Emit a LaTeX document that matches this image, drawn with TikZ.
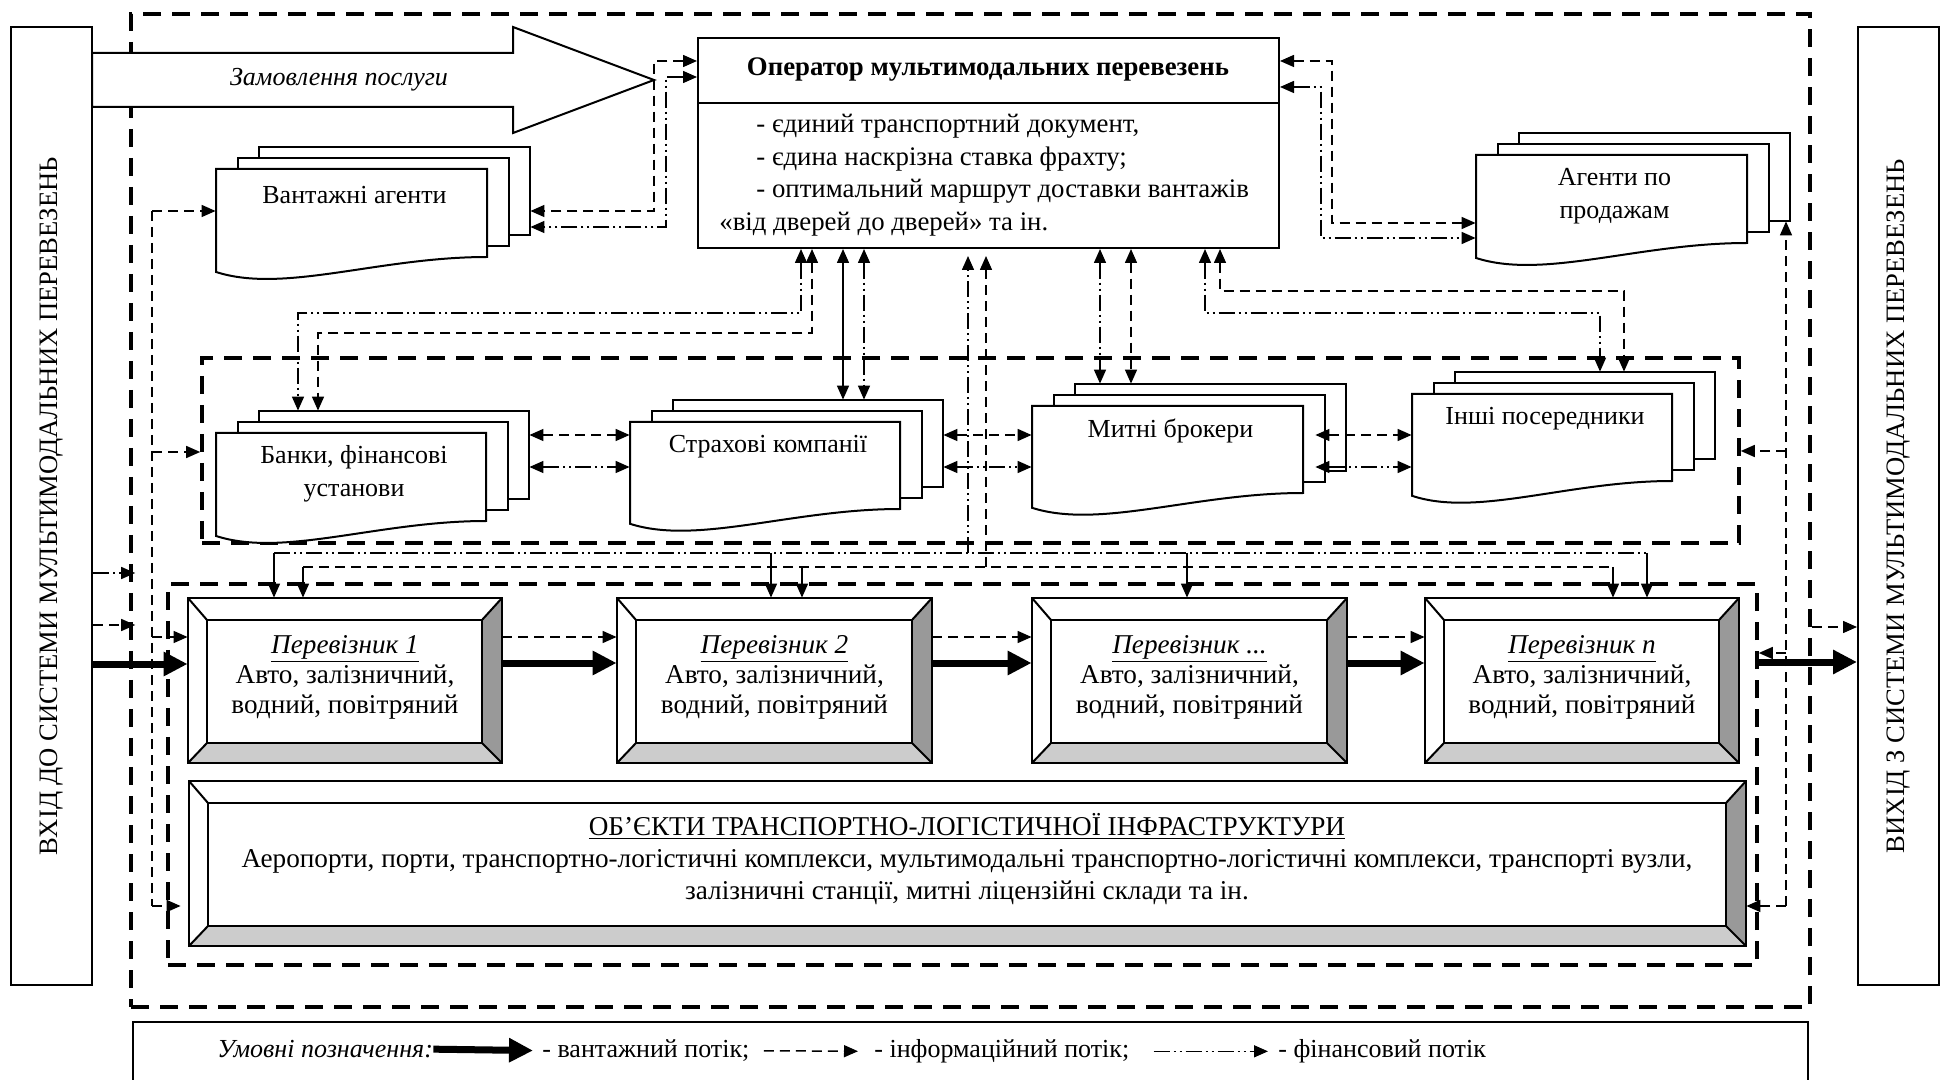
\documentclass[tikz,border=0pt]{standalone}
\usepackage{fontspec}
\setmainfont{Liberation Serif}
\usetikzlibrary{arrows.meta,fit,calc}
\pgfdeclarelayer{background}
\pgfsetlayers{background,main}
\newcommand{\fsz}{\fontsize{13}{16.5}\selectfont}
\newcommand{\fszb}{\fontsize{13.6}{15}\selectfont}
\tikzset{
  boxline/.style={line width=1pt},
  grpbox/.style={line width=1.8pt,dash pattern=on 9pt off 5.5pt},
  conn/.style={line width=0.75pt},
  info/.style={conn,dash pattern=on 5pt off 3pt},
  fin/.style={conn,dash pattern=on 8pt off 2pt on 1pt off 2pt on 1pt off 2pt},
  solidc/.style={conn},
  oneway/.style={-{Triangle[length=7pt,width=6pt]}},
  twoway/.style={{Triangle[length=7pt,width=6pt]}-{Triangle[length=7pt,width=6pt]}},
  cargo/.style={line width=3.5pt,-{Triangle[length=12pt,width=11.5pt]}},
  txt/.style={font=\fsz,align=center,inner sep=0pt},
  bevR/.style={fill=black!40},
  bevB/.style={fill=black!20},
}
% #1 name, #2 x0, #3 top, #4 w, #5 h, #6 text y, #7 text
\newcommand{\docstack}[7]{%
  \draw[boxline,fill=white] (#2+43,#3-22) rectangle (#2+43+#4,#3-22+#5);
  \draw[boxline,fill=white] (#2+21.5,#3-11) rectangle (#2+21.5+#4,#3-11+#5);
  \draw[boxline,fill=white] (#2,#3) -- (#2+#4,#3) -- (#2+#4,#3+#5)
     .. controls (#2+0.6*#4,#3+#5) and (#2+0.25*#4,#3+1.42*#5) .. (#2,#3+1.17*#5) -- cycle;
  \node[fit={(#2+43,#3-22)(#2+43+#4,#3-22+#5)},inner sep=0pt] (#1B) {};
  \node[fit={(#2,#3)(#2+#4,#3+#5)},inner sep=0pt] (#1F) {};
  \node[txt] (#1T) at (#2+0.5*#4+3,#6) {#7};
}
% #1 name, #2 x0, #3 y0, #4 x1, #5 y1
\newcommand{\bevelbox}[5]{%
  \fill[white] (#2,#3) rectangle (#4,#5);
  \fill[bevR] (#4,#3) -- (#4,#5) -- (#4-20,#5-20) -- (#4-20,#3+22) -- cycle;
  \fill[bevB] (#2,#5) -- (#4,#5) -- (#4-20,#5-20) -- (#2+19,#5-20) -- cycle;
  \draw[boxline] (#2,#3) rectangle (#4,#5);
  \draw[boxline] (#2+19,#3+22) rectangle (#4-20,#5-20);
  \draw[boxline] (#2,#3) -- (#2+19,#3+22) (#4,#3) -- (#4-20,#3+22)
     (#2,#5) -- (#2+19,#5-20) (#4,#5) -- (#4-20,#5-20);
  \node[fit={(#2,#3)(#4,#5)},inner sep=0pt] (#1) {};
}
\begin{document}
\begin{tikzpicture}[x=0.5pt,y=-0.5pt]
\useasboundingbox (0,0) rectangle (1945,1080);

% ---- input / output boxes
\node[fit={(11,27)(92,985)},inner sep=0pt,draw,boxline] (inbox) {};
\node[txt,rotate=90,font=\fontsize{13.3}{16}\selectfont] (intext) at (inbox.center) {ВХІД ДО СИСТЕМИ МУЛЬТИМОДАЛЬНИХ ПЕРЕВЕЗЕНЬ};
\node[fit={(1858,27)(1939,985)},inner sep=0pt,draw,boxline] (outbox) {};
\node[txt,rotate=90,font=\fontsize{13.3}{16}\selectfont] (outtext) at (outbox.center) {ВИХІД З СИСТЕМИ МУЛЬТИМОДАЛЬНИХ ПЕРЕВЕЗЕНЬ};

% ---- order arrow
\draw[boxline,fill=white] (92,53) -- (513,53) -- (513,27) -- (654,80) -- (513,133) -- (513,107) -- (92,107) -- cycle;
\node[txt,font=\fsz\itshape] (order) at (339,80) {Замовлення послуги};

% ---- operator
\node[fit={(698,38)(1279,248)},inner sep=0pt,draw,boxline,fill=white] (op) {};
\draw[boxline] (op.west|-0,103) -- (op.east|-0,103);
\node[txt,font=\fontsize{13.4}{16}\selectfont\bfseries] (optitle) at (988,70) {Оператор мультимодальних перевезень};
\node[txt,anchor=mid west,font=\fontsize{13.4}{16}\selectfont] (ob1) at (756,128) {- єдиний транспортний документ,};
\node[txt,anchor=mid west,font=\fontsize{13.4}{16}\selectfont] (ob2) at (756,161) {- єдина наскрізна ставка фрахту;};
\node[txt,anchor=mid west,font=\fontsize{13.4}{16}\selectfont] (ob3) at (756,193) {- оптимальний маршрут доставки вантажів};
\node[txt,anchor=mid west,font=\fontsize{13.4}{16}\selectfont] (ob4) at (719,226) {«від дверей до дверей» та ін.};

% ---- documents
\docstack{va}{216}{169}{271}{88}{195}{Вантажні агенти}
\docstack{ap}{1476}{155}{271}{88}{196}{Агенти по\\продажам}
\docstack{bk}{216}{433}{270}{88}{474}{Банки, фінансові\\установи}
\docstack{sk}{630}{422}{270}{87}{447}{Страхові компанії}
\docstack{mb}{1032}{406}{271}{87}{431}{Митні брокери}
\docstack{ip}{1412}{394}{260}{87}{419}{Інші посередники}

% ---- carriers
\bevelbox{p1}{188}{598}{502}{763}
\bevelbox{p2}{617}{598}{932}{763}
\bevelbox{p3}{1032}{598}{1347}{763}
\bevelbox{pn}{1425}{598}{1739}{763}
\bevelbox{infra}{189}{781}{1746}{946}
\node[txt,font=\fszb] (p1t) at (p1.center|-0,677) {\underline{\textit{Перевізник 1}}\\Авто, залізничний,\\водний, повітряний};
\node[txt,font=\fszb] (p2t) at (p2.center|-0,677) {\underline{\textit{Перевізник 2}}\\Авто, залізничний,\\водний, повітряний};
\node[txt,font=\fszb] (p3t) at (p3.center|-0,677) {\underline{\textit{Перевізник ...}}\\Авто, залізничний,\\водний, повітряний};
\node[txt,font=\fszb] (pnt) at (pn.center|-0,677) {\underline{\textit{Перевізник n}}\\Авто, залізничний,\\водний, повітряний};
\node[txt,font=\fontsize{13.6}{16}\selectfont] (inft) at (967,859) {\underline{ОБ’ЄКТИ ТРАНСПОРТНО-ЛОГІСТИЧНОЇ ІНФРАСТРУКТУРИ}\\Аеропорти, порти, транспортно-логістичні комплекси, мультимодальні транспортно-логістичні комплекси, транспорті вузли,\\залізничні станції, митні ліцензійні склади та ін.};

% connectors drawn over Митні брокери
\draw[info,twoway] ($(mbF.east|-0,435)+(12,0)$) -- (ipF.west|-0,435);
\draw[fin,twoway] ($(mbF.east|-0,467)+(12,0)$) -- (ipF.west|-0,467);

% ---- legend
\node[fit={(133,1022)(1808,1095)},inner sep=0pt,draw,boxline] (legend) {};
\node[txt,anchor=mid west,font=\fsz\itshape] (lg0) at (217,1053) {Умовні позначення:};
\node[txt,anchor=mid west] (lg1) at (542,1053) {- вантажний потік;};
\node[txt,anchor=mid west] (lg2) at (874,1053) {- інформаційний потік;};
\node[txt,anchor=mid west] (lg3) at (1278,1053) {- фінансовий потік};
\draw[cargo,shorten >=4.5pt] (lg0.east) -- (lg1.west);
\draw[info,oneway,shorten <=7pt,shorten >=8pt] (lg1.east) -- (lg2.west);
\draw[fin,oneway,shorten <=12pt,shorten >=5pt] (lg2.east) -- (lg3.west);

\begin{pgfonlayer}{background}
% group frames
\node[fit={(131,14)(1810,1007)},inner sep=0pt,draw,grpbox] (outer) {};
\node[fit={(202,358)(1739,543)},inner sep=0pt,draw,grpbox] (grpA) {};
\node[fit={(168,584)(1757,965)},inner sep=0pt,draw,grpbox] (grpB) {};

% operator <-> agents
\draw[info,twoway] (op.west|-0,61) -| (654,211) -- (vaB.east|-0,211);
\draw[fin,twoway] (op.west|-0,77) -| (666,227) -- (vaB.east|-0,227);
\draw[info,twoway] (op.east|-0,61) -| (1332,223) -- (apF.west|-0,223);
\draw[fin,twoway] (op.east|-0,87) -| (1321,238) -- (apF.west|-0,238);

% operator <-> middle group
\draw[fin,twoway] (op.south-|801,0) |- (298,313) -- (bkB.north-|298,0);
\draw[info,twoway] (op.south-|812,0) |- (318,333) -- (bkB.north-|318,0);
\draw[solidc,twoway] (op.south-|843,0) -- (skB.north-|843,0);
\draw[fin,twoway] (op.south-|864,0) -- (skB.north-|864,0);
\draw[fin,twoway] (op.south-|1100,0) -- (mbB.north-|1100,0);
\draw[info,twoway] (op.south-|1131,0) -- (mbB.north-|1131,0);
\draw[fin,twoway] (op.south-|1205,0) |- (1600,313) -- (ipB.north-|1600,0);
\draw[info,twoway] (op.south-|1220,0) |- (1624,291) -- (ipB.north-|1624,0);

% between documents
\draw[info,twoway] (bkB.east|-0,435) -- (skF.west|-0,435);
\draw[fin,twoway] (bkB.east|-0,467) -- (skF.west|-0,467);
\draw[info,twoway] (skB.east|-0,435) -- (mbF.west|-0,435);
\draw[fin,twoway] (skB.east|-0,467) -- (mbF.west|-0,467);

% operator <-> carriers
\coordinate (busF) at (968,553);
\coordinate (busI) at (986,567);
\draw[fin] (274,553) -- (1647,553);
\draw[info] (303,567) -- (1613,567);
\draw[fin,oneway,shorten >=3.5pt] (busF) -- (op.south-|busF);
\draw[info,oneway,shorten >=3.5pt] (busI) -- (op.south-|busI);
\foreach \xx/\bx in {274/p1,771/p2,1187/p3,1647/pn}
  \draw[solidc,oneway] (\xx,553) -- (\bx.north-|\xx,0);
\foreach \xx/\bx in {303/p1,802/p2,1613/pn}
  \draw[solidc,oneway] (\xx,567) -- (\bx.north-|\xx,0);

% left information bus
\coordinate (lbT) at (152,211);
\coordinate (lbB) at (152,906);
\draw[info] (lbT) -- (lbB);
\draw[info,oneway] (lbT) -- (vaF.west|-lbT);
\draw[info,oneway] (152,452) -- (grpA.west|-0,452);
\draw[info,oneway] (152,637) -- (p1.west|-0,637);
\draw[info,oneway,shorten >=4pt] (lbB) -- (infra.west|-lbB);

% right information bus
\coordinate (rbB) at (1786,906);
\draw[info,oneway] (rbB) -- (apB.south-|rbB);
\draw[info,oneway] (rbB) -- (infra.east|-rbB);
\draw[info,oneway] (1786,451) -- (grpA.east|-0,451);
\draw[info,oneway] (1786,653) -- (grpB.east|-0,653);

% system input / output
\draw[fin,oneway,shorten >=-3pt] (inbox.east|-0,573) -- (outer.west|-0,573);
\draw[info,oneway,shorten >=-3pt] (inbox.east|-0,625) -- (outer.west|-0,625);
\draw[cargo] (inbox.east|-0,664) -- (p1.west|-0,664);
\draw[info,oneway] (outer.east|-0,627) -- (outbox.west|-0,627);
\draw[cargo] (grpB.east|-0,662) -- (outbox.west|-0,662);

% between carriers
\draw[cargo] (p1.east|-0,663) -- (p2.west|-0,663);
\draw[cargo] (p2.east|-0,663) -- (p3.west|-0,663);
\draw[cargo] (p3.east|-0,663) -- (pn.west|-0,663);
\draw[info,oneway] (p1.east|-0,637) -- (p2.west|-0,637);
\draw[info,oneway] (p2.east|-0,637) -- (p3.west|-0,637);
\draw[info,oneway] (p3.east|-0,637) -- (pn.west|-0,637);
\end{pgfonlayer}
\end{tikzpicture}
\end{document}
